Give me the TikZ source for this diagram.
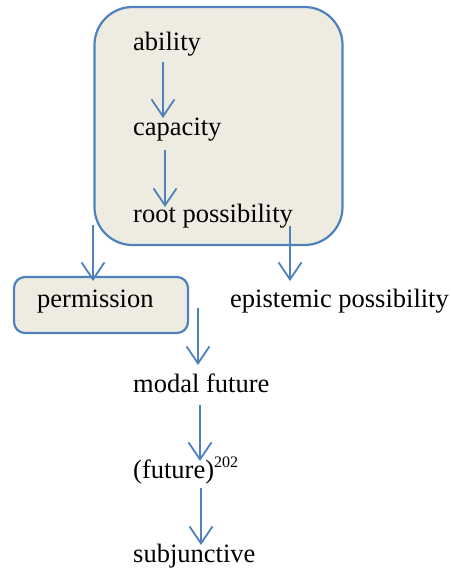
\documentclass[tikz,border=0pt]{standalone}
\usepackage{fontspec}
\setmainfont{Liberation Serif}
\usetikzlibrary{arrows.meta,calc}
\definecolor{lineblue}{HTML}{4F81BD}
\definecolor{boxfill}{HTML}{EEECE1}
\tikzset{
  lbl/.style={inner sep=0pt, font=\fontsize{26.5}{30}\selectfont, anchor=base west},
  roundbox/.style={draw=lineblue, fill=boxfill, line width=2.2pt},
  arr/.style={draw=lineblue, line width=1.8pt, -{Straight Barb[length=17pt,width=23pt,line width=1.8pt]}}
}
\begin{document}
\begin{tikzpicture}[x=1pt,y=-1pt]
\useasboundingbox (0,0) rectangle (450,570);
% boxes
\node[roundbox, rounded corners=38pt, minimum width=248pt, minimum height=238pt, inner sep=0pt, outer sep=0pt] (big) at (218.5,126) {};
\node[roundbox, rounded corners=11pt, minimum width=174pt, minimum height=56pt, inner sep=0pt, outer sep=0pt] (permbox) at (101,305) {};
% texts
\node[lbl] (ability) at (133,50) {ability};
\node[lbl] (capacity) at (133,135) {capacity};
\node[lbl] (root) at (133,222) {root possibility};
\node[lbl] (perm) at (37,307) {permission};
\node[lbl] (epi) at (230,307) {epistemic possibility};
\node[lbl] (modal) at (133,392) {modal future};
\node[lbl] (future) at (133,478) {(future)\raisebox{11pt}{\fontsize{16}{18}\selectfont 202}};
\node[lbl] (subj) at (133,562) {subjunctive};
% connector end points
\coordinate (e1) at ($(capacity.base west)+(30,-17)$);
\coordinate (e2) at ($(root.base west)+(32,-15)$);
\coordinate (e3) at ($(permbox.north west)+(79,4)$);
\coordinate (e4) at ($(epi.base west)+(60,-26)$);
\coordinate (e5) at ($(modal.base west)+(65,-27)$);
\coordinate (e6) at ($(future.base west)+(67,-17)$);
\coordinate (e7) at ($(subj.base west)+(68,-17)$);
% connectors
\draw[arr] (e1 |- {$(ability.base west)+(0,12)$}) -- (e1);
\draw[arr] (e2 |- {$(capacity.base west)+(0,15)$}) -- (e2);
\draw[arr] (e3 |- {$(big.south)+(0,-20)$}) -- (e3);
\draw[arr] (e4 |- {$(root.base west)+(0,4)$}) -- (e4);
\draw[arr] (e5 |- {$(permbox.south)+(0,-25)$}) -- (e5);
\draw[arr] (e6 |- {$(modal.base west)+(0,13)$}) -- (e6);
\draw[arr] (e7 |- {$(future.base west)+(0,10)$}) -- (e7);
\end{tikzpicture}
\end{document}
